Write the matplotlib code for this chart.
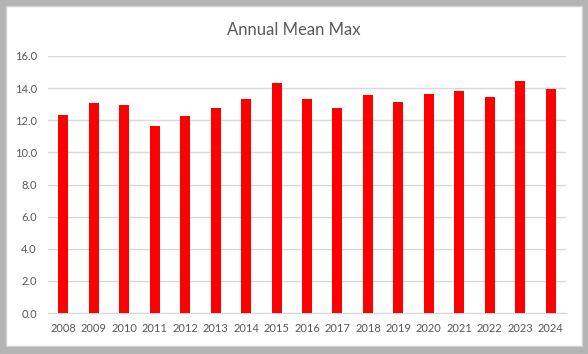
import matplotlib
matplotlib.use("Agg")
import matplotlib.pyplot as plt
from matplotlib.patches import Rectangle

years = ["2008", "2009", "2010", "2011", "2012", "2013", "2014", "2015", "2016",
         "2017", "2018", "2019", "2020", "2021", "2022", "2023", "2024"]
mean_max = [12.33, 13.10, 12.95, 11.65, 12.27, 12.77, 13.33, 14.32, 13.33,
            12.77, 13.58, 13.14, 13.64, 13.82, 13.45, 14.45, 13.95]
y_ticks = [0, 2, 4, 6, 8, 10, 12, 14, 16]

plt.rcParams['font.family'] = ['Lato', 'DejaVu Sans']
W, H = 588, 354
fig = plt.figure(figsize=(W / 100, H / 100), dpi=100)
fig.patch.set_facecolor('#b4b4b4')
# white chart area with border
fig.patches.append(Rectangle((6 / W, 8 / H), 576 / W, 340 / H, transform=fig.transFigure,
                             facecolor='white', edgecolor='#d0d0d0', linewidth=1, zorder=-5))

ax = fig.add_axes([48 / W, 1 - 313 / H, 518 / W, 257 / H])
ax.set_zorder(5)
ax.set_facecolor('white')
x = list(range(len(years)))
ax.bar(x, mean_max, width=0.33, color='#FF0000', zorder=3)
ax.set_xlim(-0.5, len(years) - 0.5)
ax.set_ylim(0, 16)
ax.set_yticks(y_ticks)
ax.set_yticklabels([f"{v:.1f}" for v in y_ticks])
ax.set_xticks(x)
ax.set_xticklabels(years)
ax.grid(axis='y', color='#d9d9d9', linewidth=1, zorder=0)
for s in ['top', 'right', 'left']:
    ax.spines[s].set_visible(False)
ax.spines['bottom'].set_color('#d9d9d9')
ax.tick_params(axis='both', length=0, colors='#595959', labelsize=8)
ax.tick_params(axis='y', pad=8)
ax.tick_params(axis='x', pad=7)

fig.text(0.5, 1 - 30 / H, "Annual Mean Max", ha='center', va='center',
         fontsize=12, color='#595959', zorder=6)

fig.savefig("out.png", dpi=100, facecolor=fig.get_facecolor())
